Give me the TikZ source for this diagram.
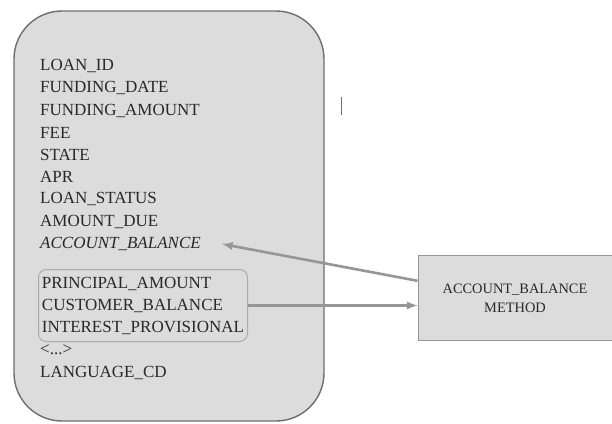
\documentclass[tikz,border=0pt]{standalone}
\usepackage{fontspec}
\setmainfont{Liberation Serif}
\usetikzlibrary{positioning}

\definecolor{boxfill}{RGB}{220,220,220}
\definecolor{boxline}{RGB}{110,110,110}
\definecolor{linkgray}{RGB}{150,150,150}
\definecolor{textgray}{RGB}{40,40,40}

\tikzset{
  table/.style  = {draw=boxline, line width=1.4pt, fill=boxfill, rounded corners=48pt,
                   minimum width=310pt, minimum height=410pt},
  field/.style  = {anchor=west, inner sep=1pt, text=textgray,
                   font=\fontsize{17}{22}\selectfont},
  group/.style  = {field, anchor=north west, draw=linkgray!80, line width=1pt,
                   rounded corners=8pt, align=left, inner sep=0pt,
                   minimum width=209pt, minimum height=72pt},
  method/.style = {draw=linkgray, line width=1pt, fill=boxfill, align=center,
                   text=textgray, font=\fontsize{14.4}{19}\selectfont,
                   minimum width=194pt, minimum height=85pt},
  link/.style   = {->, draw=linkgray, line width=2.6pt}
}

\begin{document}
\begin{tikzpicture}[x=1pt, y=-1pt, >=latex]
\useasboundingbox (0,0) rectangle (612,423);

\node[table] (loan) at (169,216) {};

% columns of the loan table
\foreach \txt [count=\i] in {LOAN\_ID, FUNDING\_DATE, FUNDING\_AMOUNT, FEE,
                             STATE, APR, LOAN\_STATUS, AMOUNT\_DUE}
  \node[field] (f\i) at (39,44+22.2*\i) {\txt};

\node[field, font=\fontsize{17}{22}\selectfont\itshape] (f9) at (39,244) {ACCOUNT\_BALANCE};

\node[group] (grp) at (38,269)
  {PRINCIPAL\_AMOUNT\\CUSTOMER\_BALANCE\\INTEREST\_PROVISIONAL};

\node[field] (f13) at (39,350) {<...>};
\node[field] (f14) at (39,373) {LANGUAGE\_CD};

\node[method] (meth) at (515,298) {ACCOUNT\_BALANCE\\METHOD};

\draw[link] (meth.170) -- ([xshift=20pt]f9.east);
\draw[link] (grp.east) -- (grp.east -| meth.west);

% stray cursor mark
\coordinate (cur1) at (341,97);
\coordinate (cur2) at (341,115);
\draw[boxline, line width=1pt] (cur1) -- (cur2);

\end{tikzpicture}
\end{document}
